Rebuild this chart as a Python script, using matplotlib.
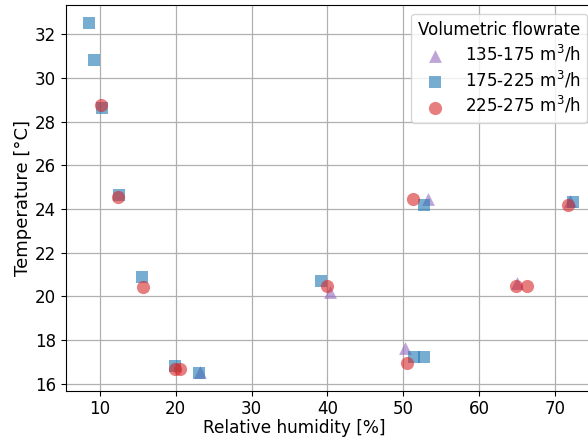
import matplotlib
matplotlib.use("Agg")
import matplotlib.pyplot as plt

# Data
tri_x = [23.2, 40.3, 53.3, 50.2, 65.0, 72.0]
tri_y = [16.56, 20.22, 24.44, 17.66, 20.6, 24.38]

sq_x = [8.6, 9.2, 10.3, 12.55, 15.6, 19.9, 23.1, 39.2, 52.7, 51.4, 52.7, 72.4]
sq_y = [32.52, 30.81, 28.6, 24.64, 20.88, 16.8, 16.49, 20.72, 24.18, 17.25, 17.25, 24.3]

circ_x = [10.2, 12.4, 15.7, 19.9, 20.55, 39.9, 51.25, 50.5, 64.9, 66.3, 71.7]
circ_y = [28.74, 24.56, 20.42, 16.67, 16.67, 20.48, 24.44, 16.97, 20.48, 20.48, 24.18]

labels = ["135-175 m$^3$/h", "175-225 m$^3$/h", "225-275 m$^3$/h"]
x_ticks = [10, 20, 30, 40, 50, 60, 70]
y_ticks = [16, 18, 20, 22, 24, 26, 28, 30, 32]

plt.rcParams['font.family'] = ['DejaVu Sans']
plt.rcParams['font.size'] = 12

fig = plt.figure(figsize=(5.88, 4.41), dpi=100)
ax_left, ax_right = 65.7, 600.0
ax = fig.add_axes([ax_left / 588, 50.3 / 441, (ax_right - ax_left) / 588, (390.7 - 5) / 441])

ax.scatter(tri_x, tri_y, marker='^', s=85, color='tab:purple', alpha=0.6, linewidths=0, label=labels[0], zorder=3)
ax.scatter(sq_x, sq_y, marker='s', s=80, color='tab:blue', alpha=0.6, linewidths=0, label=labels[1], zorder=3)
ax.scatter(circ_x, circ_y, marker='o', s=90, color='tab:red', alpha=0.6, linewidths=0, label=labels[2], zorder=3)

ax.set_xlim(5.48, 75.96)
ax.set_ylim(15.69, 33.33)
ax.set_xticks(x_ticks)
ax.set_yticks(y_ticks)
ax.tick_params(labelsize=12)
ax.grid(True, color='#b0b0b0', linewidth=0.9)
ax.set_axisbelow(True)
ax.set_xlabel("Relative humidity [%]", fontsize=12.2)
ax.xaxis.set_label_coords((294 - ax_left) / (ax_right - ax_left), -0.074)
ax.set_ylabel("Temperature [°C]", fontsize=13, labelpad=2)

leg = ax.legend(title="Volumetric flowrate", loc='upper right',
                bbox_to_anchor=(587 / 588, 1 - 14 / 441), bbox_transform=fig.transFigure,
                borderaxespad=0, fontsize=12, title_fontsize=12, labelspacing=0.28)

fig.savefig("out.png", dpi=100)
